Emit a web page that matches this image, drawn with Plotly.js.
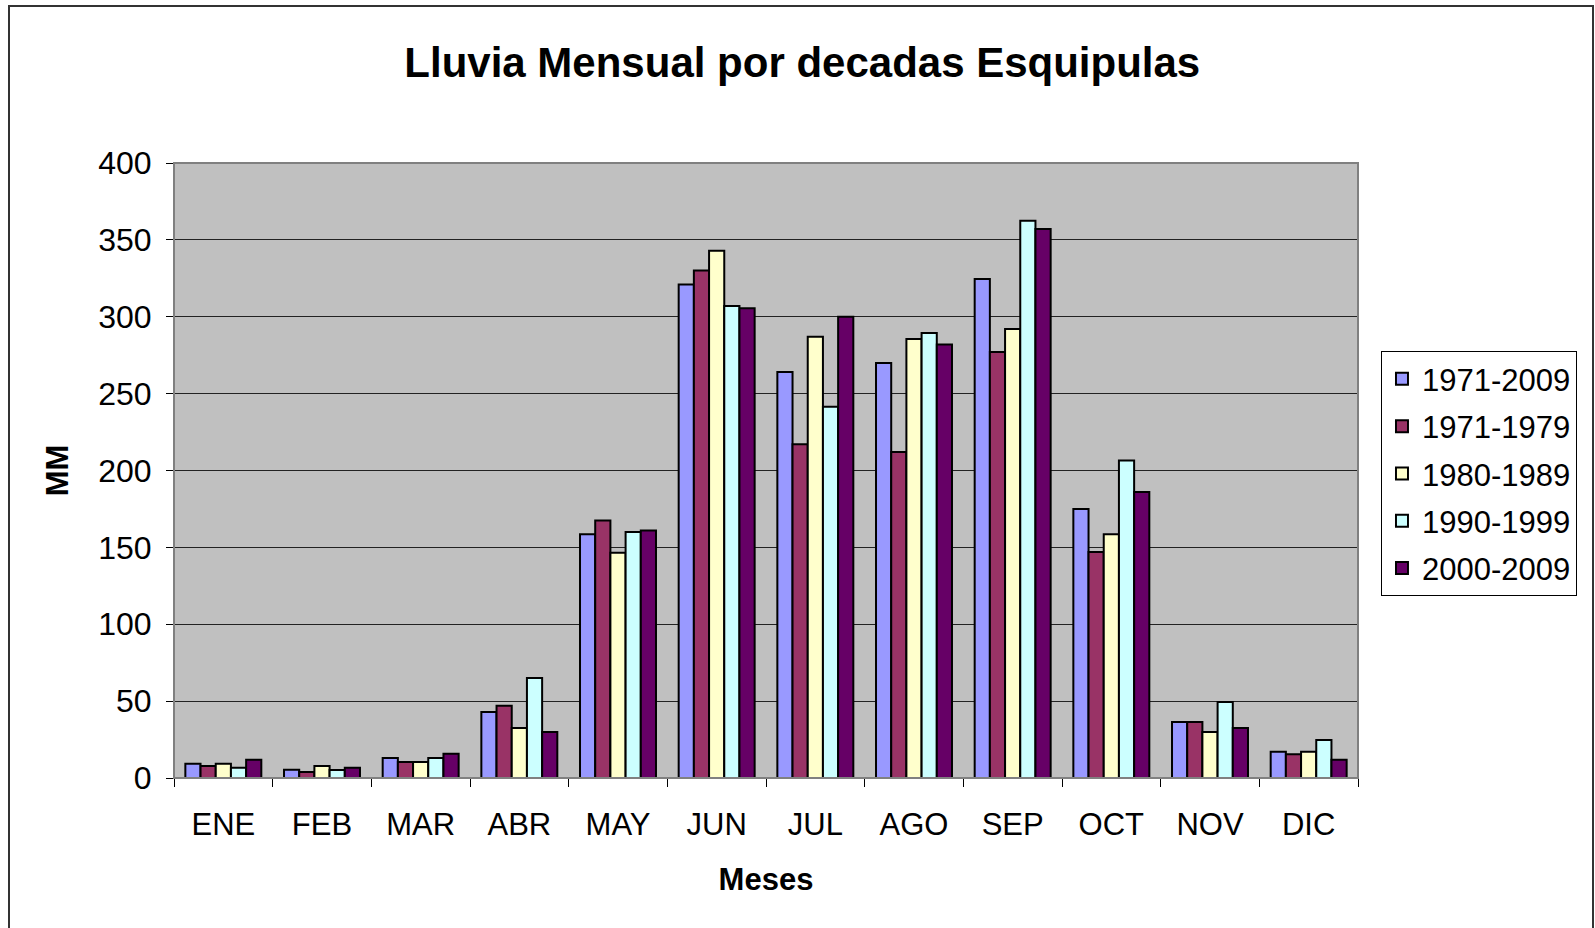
<!DOCTYPE html>
<html>
<head>
<meta charset="utf-8">
<script src="https://cdn.plot.ly/plotly-3.0.1.min.js"></script>
<style>
  html, body { margin: 0; padding: 0; background: #ffffff; }
  #wrap { position: relative; width: 1595px; height: 928px; overflow: hidden; }
  #chart { width: 1595px; height: 928px; }
  #frame { position: absolute; left: 8px; top: 5px; width: 1582px; height: 940px;
           border: 2px solid #333333; pointer-events: none; }
</style>
</head>
<body>
<div id="wrap">
  <div id="chart"></div>
  <div id="frame"></div>
</div>
<script>
const months = ["ENE","FEB","MAR","ABR","MAY","JUN","JUL","AGO","SEP","OCT","NOV","DIC"];
const seriesNames = ["1971-2009","1971-1979","1980-1989","1990-1999","2000-2009"];
const s1971_2009 = [9.3, 5.4, 13, 43, 158.5, 321, 264, 270, 324.5, 175, 36.5, 17];
const s1971_1979 = [7.8, 3.9, 10.4, 47, 167.5, 330, 217, 212, 277, 147, 36.5, 15.5];
const s1980_1989 = [9.3, 7.8, 10.4, 32.5, 146.5, 343, 287, 285.5, 292, 158.5, 30, 17];
const s1990_1999 = [6.7, 5.2, 13, 65, 160, 307, 241.5, 289.5, 362.5, 206.5, 49.5, 24.7];
const s2000_2009 = [11.9, 6.7, 15.8, 30, 161, 305.5, 300, 282, 357, 186, 32.5, 11.9];
const seriesValues = [s1971_2009, s1971_1979, s1980_1989, s1990_1999, s2000_2009];
const colors = ["#9999FF","#993366","#FFFFCC","#CCFFFF","#660066"];

const font = "Liberation Sans, Arial, sans-serif";

const traces = seriesNames.map((name, i) => ({
  type: "bar",
  name: name,
  x: months,
  y: seriesValues[i],
  legendgroup: "g" + i,
  marker: { color: colors[i], line: { color: "#000000", width: 2 } },
  hoverinfo: "x+y+name"
}));

const layout = {
  width: 1595,
  height: 928,
  paper_bgcolor: "#ffffff",
  plot_bgcolor: "#C0C0C0",
  margin: { l: 174, r: 237, t: 163, b: 150, pad: 0 },
  barmode: "group",
  bargap: 0.23,
  bargroupgap: 0,
  font: { family: font, color: "#000000", size: 31 },
  title: {
    text: "Lluvia Mensual por decadas Esquipulas",
    font: { family: font, size: 42, weight: "bold", color: "#000000" },
    x: 0.503, xref: "container", xanchor: "center",
    y: 0.933, yref: "container", yanchor: "middle"
  },
  xaxis: {
    type: "category",
    tickson: "boundaries",
    ticks: "outside",
    ticklen: 8,
    tickcolor: "#000000",
    tickwidth: 1,
    showline: true,
    linecolor: "#000000",
    linewidth: 1,
    showgrid: false,
    ticklabelstandoff: 19,
    tickfont: { family: font, size: 31, color: "#000000" },
    title: {
      text: "Meses",
      font: { family: font, size: 31, weight: "bold", color: "#000000" },
      standoff: 27
    }
  },
  yaxis: {
    range: [0, 400],
    dtick: 50,
    tick0: 0,
    ticks: "outside",
    ticklen: 7,
    tickcolor: "#000000",
    tickwidth: 1,
    showline: true,
    linecolor: "#000000",
    linewidth: 1,
    showgrid: true,
    gridcolor: "#222222",
    gridwidth: 1,
    zeroline: false,
    ticklabelstandoff: 8,
    tickfont: { family: font, size: 32, color: "#000000" },
    title: {
      text: "MM",
      font: { family: font, size: 31, weight: "bold", color: "#000000" },
      standoff: 20
    }
  },
  legend: {
    x: 1.0194, xanchor: "left",
    y: 0.694, yanchor: "top",
    bgcolor: "#ffffff",
    bordercolor: "#000000",
    borderwidth: 1,
    traceorder: "grouped",
    tracegroupgap: 4,
    font: { family: font, size: 31, color: "#000000" },
    itemwidth: 30
  },
  shapes: [{
    type: "rect", xref: "paper", yref: "paper",
    x0: 0, x1: 1, y0: 0, y1: 1,
    line: { color: "#808080", width: 2 },
    fillcolor: "rgba(0,0,0,0)",
    layer: "above"
  }]
};

Plotly.newPlot("chart", traces, layout, { displayModeBar: false, responsive: false });
</script>
</body>
</html>
